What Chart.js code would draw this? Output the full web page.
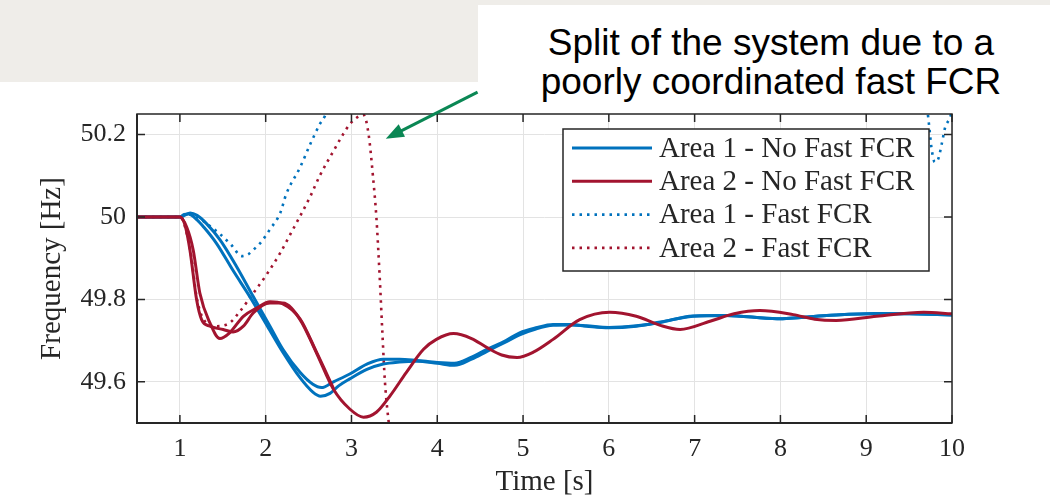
<!DOCTYPE html>
<html lang="en">
<head>
<meta charset="UTF-8" />
<title>Frequency after disturbance</title>
<script src="https://cdn.jsdelivr.net/npm/chart.js"></script>
<style>
  body { margin: 0; background: #fff; }
  #wrap { position: relative; width: 1050px; height: 501px; overflow: hidden; }
  .grey { position: absolute; background: #efede9; }
  #note { position: absolute; left: 492px; top: 23px; width: 558px; text-align: center;
          font-family: 'Liberation Sans', Arial, sans-serif; font-size: 37px; line-height: 39px; color: #000; }
  canvas { position: absolute; left: 0; top: 0; }
</style>
</head>
<body>
<div id="wrap">
  <div class="grey" style="left:0;top:0;width:1050px;height:5px"></div>
  <div class="grey" style="left:0;top:0;width:478px;height:82px"></div>
  <div id="note">Split of the system due to a<br>poorly coordinated fast FCR</div>
  <canvas id="freqChart" width="1050" height="501"></canvas>
</div>
<script>
// tick labels
const xTicks = [1, 2, 3, 4, 5, 6, 7, 8, 9, 10];
const yTicks = [49.6, 49.8, 50, 50.2];
// rows of the boxed legend
const legendOrder = ['Area 1 - No Fast FCR', 'Area 2 - No Fast FCR', 'Area 1 - Fast FCR', 'Area 2 - Fast FCR'];

// [time s, frequency Hz]
const area1NoFast = [[0.5,50],[1.0,50],[1.05,50.004],[1.12,50.010],[1.2,50.004],[1.31,49.984],[1.47,49.944],
  [1.66,49.88],[1.855,49.807],[2.05,49.735],[2.2,49.679],[2.4,49.623],[2.55,49.594],[2.65,49.586],[2.79,49.60],
  [2.98,49.619],[3.18,49.643],[3.37,49.655],[3.56,49.655],[3.76,49.652],[4.0,49.647],[4.2,49.645],[4.4,49.66],
  [4.58,49.679],[4.8,49.70],[4.96,49.719],[5.15,49.731],[5.35,49.739],[5.55,49.739],[5.74,49.735],[6.0,49.731],
  [6.32,49.735],[6.6,49.745],[6.98,49.759],[7.37,49.761],[7.96,49.753],[8.54,49.761],[9.12,49.766],[9.5,49.765],[10,49.762]];
const area1NoFastB = [[0.5,50],[1.0,50],[1.05,50.006],[1.1,50.007],[1.2,49.993],[1.28,49.975],[1.43,49.935],
  [1.62,49.87],[1.82,49.805],[2.02,49.735],[2.2,49.672],[2.4,49.61],[2.55,49.575],[2.64,49.565],[2.75,49.572],
  [2.85,49.59],[2.98,49.607],[3.18,49.630],[3.37,49.643],[3.56,49.648],[3.76,49.650],[4.0,49.645],[4.2,49.640],
  [4.4,49.655],[4.58,49.674],[4.8,49.697],[4.96,49.714],[5.15,49.728],[5.35,49.737],[5.55,49.738],[5.74,49.736],
  [6.0,49.732],[6.32,49.736],[6.6,49.744],[6.98,49.76],[7.37,49.761],[7.96,49.753],[8.54,49.761],[9.12,49.766],[9.5,49.765],[10,49.762]];
const area2NoFast = [[0.5,50],[1.0,50],[1.06,49.98],[1.117,49.92],[1.195,49.799],[1.253,49.751],[1.35,49.735],
  [1.505,49.727],[1.62,49.721],[1.74,49.735],[1.855,49.767],[2.05,49.791],[2.2,49.791],[2.4,49.751],[2.59,49.671],
  [2.79,49.582],[2.98,49.534],[3.14,49.514],[3.29,49.526],[3.45,49.566],[3.64,49.623],[3.84,49.679],[3.99,49.703],
  [4.19,49.717],[4.4,49.705],[4.58,49.683],[4.75,49.665],[4.93,49.659],[5.12,49.672],[5.35,49.703],[5.66,49.751],
  [6.01,49.769],[6.32,49.759],[6.6,49.737],[6.83,49.727],[7.18,49.747],[7.46,49.765],[7.76,49.773],[8.15,49.763],
  [8.4,49.752],[8.65,49.749],[9.12,49.759],[9.67,49.769],[10,49.765]];
const area2NoFastB = [[0.5,50],[1.0,50],[1.08,49.975],[1.155,49.92],[1.233,49.815],[1.35,49.743],[1.466,49.705],
  [1.58,49.719],[1.74,49.759],[1.894,49.779],[2.05,49.794],[2.2,49.789],[2.4,49.753],[2.59,49.673],[2.79,49.584]];
const area1Fast = [[0.5,50],[1.0,50],[1.1,50.006],[1.2,50.0],[1.31,49.984],[1.47,49.958],[1.6,49.932],[1.72,49.905],
  [1.8,49.91],[1.855,49.92],[1.95,49.94],[2.05,49.97],[2.17,50.01],[2.24,50.056],[2.4,50.12],[2.52,50.177],
  [2.63,50.225],[2.69,50.245],[2.8,50.3],[3.0,null],[9.68,50.32],[9.72,50.247],[9.74,50.209],[9.76,50.169],
  [9.80,50.133],[9.84,50.141],[9.88,50.177],[9.92,50.217],[9.98,50.243],[10,50.26]];
const area2Fast = [[0.5,50],[1.0,50],[1.12,49.92],[1.2,49.80],[1.3,49.745],[1.43,49.735],[1.58,49.743],[1.70,49.771],
  [1.855,49.815],[2.01,49.86],[2.17,49.913],[2.30,49.963],[2.52,50.05],[2.63,50.10],[2.79,50.16],[2.90,50.20],
  [2.98,50.225],[3.06,50.241],[3.14,50.248],[3.2,50.2],[3.25,50.1],[3.29,50.0],[3.33,49.85],[3.36,49.72],
  [3.39,49.6],[3.44,49.49],[3.5,49.38]];

const blue = '#0072bd';
const red = '#a2142f';
const textColor = '#262626';
const serif = "'Liberation Serif', 'Times New Roman', serif";

function pts(arr) { return arr.map(p => ({ x: p[0], y: p[1] })); }

function series(label, data, color, dotted) {
  return {
    label: label, data: pts(data), borderColor: color, backgroundColor: color,
    borderWidth: dotted ? 2.6 : 3, borderDash: dotted ? [2.5, 5] : [],
    pointRadius: 0, fill: false, spanGaps: false, clip: 0,
    cubicInterpolationMode: 'monotone'
  };
}

// frame, inward ticks, arrow and boxed legend
const framePlugin = {
  id: 'frame',
  afterDraw(chart) {
    const { ctx, chartArea: a, scales: { x, y } } = chart;
    ctx.save();
    ctx.strokeStyle = textColor;
    ctx.lineWidth = 1.5;
    ctx.strokeRect(a.left, a.top, a.right - a.left, a.bottom - a.top);
    ctx.lineWidth = 2;
    ctx.beginPath();
    ctx.moveTo(a.left, a.top); ctx.lineTo(a.left, a.bottom); ctx.lineTo(a.right, a.bottom);
    ctx.stroke();
    ctx.lineWidth = 1.5;
    ctx.beginPath();
    xTicks.forEach(v => {
      const px = x.getPixelForValue(v);
      ctx.moveTo(px, a.bottom); ctx.lineTo(px, a.bottom - 8);
      ctx.moveTo(px, a.top); ctx.lineTo(px, a.top + 8);
    });
    yTicks.forEach(v => {
      const py = y.getPixelForValue(v);
      ctx.moveTo(a.left, py); ctx.lineTo(a.left + 8, py);
      ctx.moveTo(a.right, py); ctx.lineTo(a.right - 8, py);
    });
    ctx.stroke();

    // arrow pointing at the split
    const tx = x.getPixelForValue(3.40), ty = y.getPixelForValue(50.19);
    const sx = x.getPixelForValue(4.47), sy = y.getPixelForValue(50.303);
    const ang = Math.atan2(ty - sy, tx - sx);
    ctx.strokeStyle = '#0a8754';
    ctx.fillStyle = '#0a8754';
    ctx.lineWidth = 3;
    ctx.beginPath();
    ctx.moveTo(sx, sy);
    ctx.lineTo(tx - 14 * Math.cos(ang), ty - 14 * Math.sin(ang));
    ctx.stroke();
    ctx.beginPath();
    ctx.moveTo(tx, ty);
    ctx.lineTo(tx - 18 * Math.cos(ang) + 7 * Math.sin(ang), ty - 18 * Math.sin(ang) - 7 * Math.cos(ang));
    ctx.lineTo(tx - 18 * Math.cos(ang) - 7 * Math.sin(ang), ty - 18 * Math.sin(ang) + 7 * Math.cos(ang));
    ctx.closePath();
    ctx.fill();

    // legend
    const items = legendOrder.map(l => chart.data.datasets.find(d => d.label === l));
    const bx = 563, by = 129, bw = 366, bh = 142;
    ctx.fillStyle = '#fff';
    ctx.fillRect(bx, by, bw, bh);
    ctx.strokeStyle = textColor;
    ctx.lineWidth = 1.5;
    ctx.strokeRect(bx, by, bw, bh);
    ctx.font = '29px ' + serif;
    ctx.textBaseline = 'middle';
    items.forEach((d, i) => {
      const ry = by + 19 + i * 33.3;
      ctx.strokeStyle = d.borderColor;
      ctx.lineWidth = d.borderWidth;
      ctx.setLineDash(d.borderDash);
      ctx.beginPath();
      ctx.moveTo(bx + 9, ry); ctx.lineTo(bx + 89, ry);
      ctx.stroke();
      ctx.setLineDash([]);
      ctx.fillStyle = textColor;
      ctx.fillText(d.label, bx + 96, ry + 1);
    });
    ctx.restore();
  }
};

const ctx = document.getElementById('freqChart').getContext('2d');
new Chart(ctx, {
  type: 'line',
  data: {
    datasets: [
      series('Area 2 - No Fast FCR', area2NoFast, red, false),
      series('', area2NoFastB, red, false),
      series('Area 1 - No Fast FCR', area1NoFast, blue, false),
      series('', area1NoFastB, blue, false),
      series('Area 1 - Fast FCR', area1Fast, blue, true),
      series('Area 2 - Fast FCR', area2Fast, red, true)
    ]
  },
  options: {
    responsive: false,
    animation: false,
    devicePixelRatio: 1,
    layout: { padding: { left: 0, right: 98, top: 114, bottom: 0 } },
    plugins: { legend: { display: false }, tooltip: { enabled: false } },
    scales: {
      x: {
        type: 'linear', min: 0.5, max: 10,
        afterBuildTicks: s => { s.ticks = xTicks.map(v => ({ value: v })); },
        afterFit: s => { s.height = 78; },
        grid: { color: '#e3e3e3', lineWidth: 1, drawTicks: false },
        border: { display: false },
        ticks: { color: textColor, font: { family: serif, size: 26 }, padding: 11, maxRotation: 0 },
        title: { display: true, text: 'Time [s]', color: textColor, font: { family: serif, size: 29 }, padding: { top: 0, bottom: 1 } }
      },
      y: {
        min: 49.5, max: 50.25,
        afterBuildTicks: s => { s.ticks = yTicks.map(v => ({ value: v })); },
        afterFit: s => { s.width = 137; },
        grid: { color: '#e3e3e3', lineWidth: 1, drawTicks: false },
        border: { display: false },
        ticks: { color: textColor, font: { family: serif, size: 26 }, padding: 11,
                 callback: v => String(+Number(v).toFixed(1)) },
        title: { display: true, text: 'Frequency [Hz]', color: textColor, font: { family: serif, size: 29 }, padding: { top: 35, bottom: 0 } }
      }
    }
  },
  plugins: [framePlugin]
});
</script>
</body>
</html>
